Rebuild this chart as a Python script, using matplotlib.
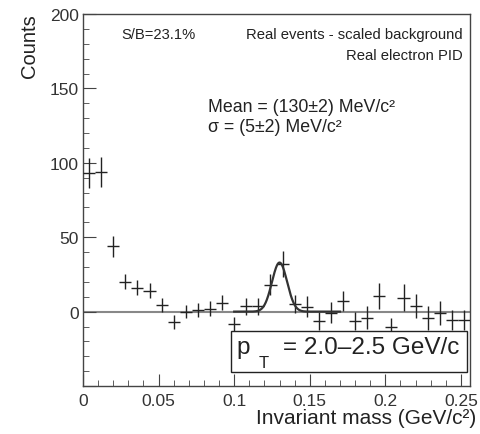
import numpy as np
import matplotlib
matplotlib.use("Agg")
import matplotlib.pyplot as plt
from matplotlib.patches import Rectangle
from matplotlib.ticker import MultipleLocator

plt.rcParams['font.family'] = ['Liberation Sans', 'DejaVu Sans']

# histogram: bin centres (GeV/c^2), counts and errors
bin_width = 0.008
mass = np.arange(32) * bin_width + bin_width / 2
counts = [93, 94, 44, 20, 16, 14, 4.5, -7, 0, 1, 2, 6,
          -8.5, 3.5, 3.5, 18, 32, 5, 3.3, -6.3, -0.7, 7.2,
          -6.3, -4, 10.5, -10, 9.4, 3.8, -4.5, -0.7, -5.6, -5.6]
errors = [10, 10, 7, 5, 5, 5, 5, 5, 4.5, 4.5, 5, 5,
          5, 5.5, 6, 7, 8.5, 6, 7, 6, 7, 7,
          6, 7.5, 9, 6, 9, 8, 8, 8, 7, 7]

# gaussian fit result
fit_amp = 33.0
fit_mean = 0.130
fit_sigma = 0.005
fit_range = (0.100, 0.170)

fig = plt.figure(figsize=(4.81, 4.35), dpi=100)
ax = fig.add_axes([0.1726, 0.1103, 0.8046, 0.855])

ax.axhline(0, color='#888888', lw=1.5, zorder=1)

ax.errorbar(mass, counts, yerr=errors, xerr=bin_width / 2, fmt='none',
            ecolor='#222222', elinewidth=1.0, capsize=0, zorder=3)

xf = np.linspace(fit_range[0], fit_range[1], 300)
yf = fit_amp * np.exp(-0.5 * ((xf - fit_mean) / fit_sigma) ** 2)
ax.plot(xf, yf, color='#333333', lw=1.6, zorder=4)

ax.set_xlim(0, 0.256)
ax.set_ylim(-50, 200)
ax.xaxis.set_minor_locator(MultipleLocator(0.01))
ax.yaxis.set_minor_locator(MultipleLocator(10))
ax.set_xticks([0, 0.05, 0.1, 0.15, 0.2, 0.25])
ax.set_xticklabels(['0', '0.05', '0.1', '0.15', '0.2', '0.25'])
ax.set_yticks([-50, 0, 50, 100, 150, 200])
ax.set_yticklabels(['', '0', '50', '100', '150', '200'])
ax.tick_params(which='both', direction='in', top=False, right=False,
               color='#444444', labelsize=12.5, labelcolor='#333333')
ax.tick_params(axis='x', which='major', length=9, pad=5)
ax.tick_params(axis='y', which='major', length=9, pad=3)
ax.tick_params(which='minor', length=4.5)
for s in ax.spines.values():
    s.set_color('#444444')
    s.set_linewidth(1.0)


def px(x):
    return (x - 83) / 387.0


def py(y):
    return (387 - y) / 372.0


tc = '#222222'
ax.text(px(121), py(38.5), 'S/B=23.1%', transform=ax.transAxes, fontsize=10.6,
        va='baseline', ha='left', color=tc)
ax.text(px(463), py(38.5), 'Real events - scaled background', transform=ax.transAxes,
        fontsize=10.7, va='baseline', ha='right', color=tc)
ax.text(px(463), py(60), 'Real electron PID', transform=ax.transAxes,
        fontsize=10.7, va='baseline', ha='right', color=tc)
ax.text(px(208), py(112.3), 'Mean = (130\u00b12) MeV/c\u00b2', transform=ax.transAxes,
        fontsize=12.8, va='baseline', ha='left', color=tc)
ax.text(px(208), py(131.7), '\u03c3 = (5\u00b12) MeV/c\u00b2', transform=ax.transAxes,
        fontsize=12.8, va='baseline', ha='left', color=tc)

box = Rectangle((px(231), py(373.3)), px(467) - px(231), py(331.7) - py(373.3),
                transform=ax.transAxes, facecolor='white', edgecolor='#222222',
                lw=1.0, zorder=6)
ax.add_patch(box)
ax.text(px(236), py(354.3), 'p', transform=ax.transAxes, fontsize=17.5,
        va='baseline', ha='left', color=tc, zorder=7)
ax.text(px(259), py(368), 'T', transform=ax.transAxes, fontsize=12,
        va='baseline', ha='left', color=tc, zorder=7)
ax.text(px(283), py(354.3), '= 2.0\u20132.5 GeV/c', transform=ax.transAxes,
        fontsize=17.5, va='baseline', ha='left', color=tc, zorder=7)

fig.text(29.5 / 481, 1 - 14 / 435, 'Counts', rotation=90, ha='center', va='top',
         fontsize=14.5, color=tc)
fig.text(476 / 481, 1 - 424 / 435, 'Invariant mass (GeV/c\u00b2)', ha='right',
         va='baseline', fontsize=15, color=tc)

fig.savefig('out.png', dpi=100)
